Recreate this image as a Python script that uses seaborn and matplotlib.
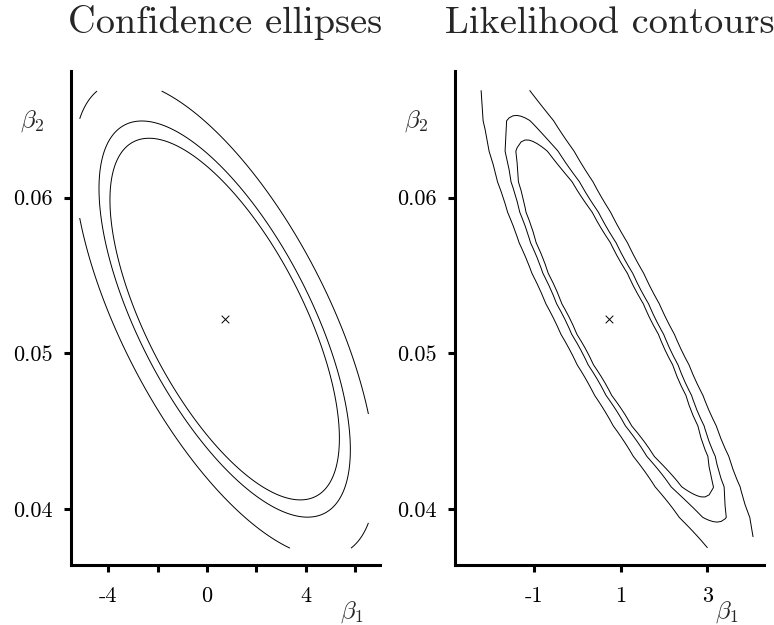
import numpy as np
import matplotlib
matplotlib.use("Agg")
import matplotlib.pyplot as plt
import seaborn as sns

# ---------------- data ----------------
titles = ["Confidence ellipses", "Likelihood contours"]
estimate_b1 = [0.73]
estimate_b2 = [0.0522]

# Wald (confidence) ellipses: centre, covariance, levels of the quadratic form
ell_center = [0.72, 0.0522]
ell_cov = [[21.65, -0.03564], [-0.03564, 1.35e-4]]
ell_levels = [1.0, 1.2, 1.73]

# likelihood surface: centre, scale, tilt/bend of ridge, axis variances, levels
lik_center = [0.755, 0.0522]
lik_scale = [1.0, 0.01]
lik_tilt = 1.78
lik_bend = 0.09
lik_axes = [0.895, 1.369]
lik_levels = [1.0, 1.27, 1.93]

# ticks
left_xticks = [-4, -2, 0, 2, 4, 6]
left_xlabels = ["-4", "", "0", "", "4", ""]
right_xticks = [-1, 1, 3]
right_xlabels = ["-1", "1", "3"]
yticks = [0.04, 0.05, 0.06]
ylabels = ["0.04", "0.05", "0.06"]

# ---------------- style ----------------
sns.set_theme(style="ticks")
plt.rcParams["font.family"] = ["cmr10", "DejaVu Serif"]
plt.rcParams["mathtext.fontset"] = "cm"
plt.rcParams["axes.unicode_minus"] = False
plt.rcParams["axes.formatter.use_mathtext"] = True

W, H = 774, 625
fig = plt.figure(figsize=(W / 100, H / 100), dpi=100)
fig.patch.set_facecolor("white")


def px_axes(x0, x1, ytop, ybot):
    return fig.add_axes([x0 / W, 1 - ybot / H, (x1 - x0) / W, (ybot - ytop) / H])


axL = px_axes(70.5, 380, 71, 564.5)
axR = px_axes(454.5, 764.3, 71, 564.5)

# ---- left: confidence ellipses ----
gx = np.linspace(-5.16, 6.55, 300)
gy = np.linspace(0.03748, 0.06685, 300)
X, Y = np.meshgrid(gx, gy)
Sinv = np.linalg.inv(np.array(ell_cov))
dx = X - ell_center[0]
dy = Y - ell_center[1]
Q = Sinv[0, 0] * dx * dx + 2 * Sinv[0, 1] * dx * dy + Sinv[1, 1] * dy * dy
axL.contour(X, Y, Q, levels=ell_levels, colors="black", linewidths=0.7)

# ---- right: likelihood contours ----
hx = np.linspace(-2.32, 4.06, 70)
hy = np.linspace(0.0375, 0.0669, 16)
X2, Y2 = np.meshgrid(hx, hy)
p = (X2 - lik_center[0]) / lik_scale[0]
q = (Y2 - lik_center[1]) / lik_scale[1]
s = p + lik_tilt * q - lik_bend * q ** 2
D = s ** 2 / lik_axes[0] + q ** 2 / lik_axes[1]
axR.contour(X2, Y2, D, levels=lik_levels, colors="black", linewidths=0.7)

for ax in (axL, axR):
    sns.scatterplot(x=estimate_b1, y=estimate_b2, marker="x", s=30,
                    color="black", linewidth=0.7, ax=ax, legend=False)

axL.set_xlim(-5.533, 7.02)
axR.set_xlim(-2.843, 4.32)
for ax, xt, xl, title, b1x in ((axL, left_xticks, left_xlabels, titles[0], 0.871),
                               (axR, right_xticks, right_xlabels, titles[1], 0.841)):
    ax.set_ylim(0.03643, 0.06814)
    ax.set_xticks(xt)
    ax.set_xticklabels(xl)
    ax.set_yticks(yticks)
    ax.set_yticklabels(ylabels)
    sns.despine(ax=ax)
    ax.set_facecolor("white")
    for sp in ("left", "bottom"):
        ax.spines[sp].set_linewidth(2.2)
        ax.spines[sp].set_color("black")
    ax.tick_params(axis="both", direction="out", length=5, width=2.2,
                   color="black", labelsize=16, labelcolor="black")
    ax.tick_params(axis="x", pad=10.5)
    ax.tick_params(axis="y", pad=7.5)
    ax.set_xlabel("")
    ax.set_ylabel("")
    ax.text(-0.163, 0.8987, r"$\beta_2$", transform=ax.transAxes,
            ha="left", va="center", fontsize=18)
    ax.text(b1x, -0.096, r"$\beta_1$", transform=ax.transAxes,
            ha="left", va="center", fontsize=18)
    bb = ax.get_position()
    fig.text(bb.x0 + bb.width / 2, 1 - 33 / H, title, ha="center",
             va="baseline", fontsize=27.6)

fig.savefig("out.png", dpi=100, facecolor="white")
